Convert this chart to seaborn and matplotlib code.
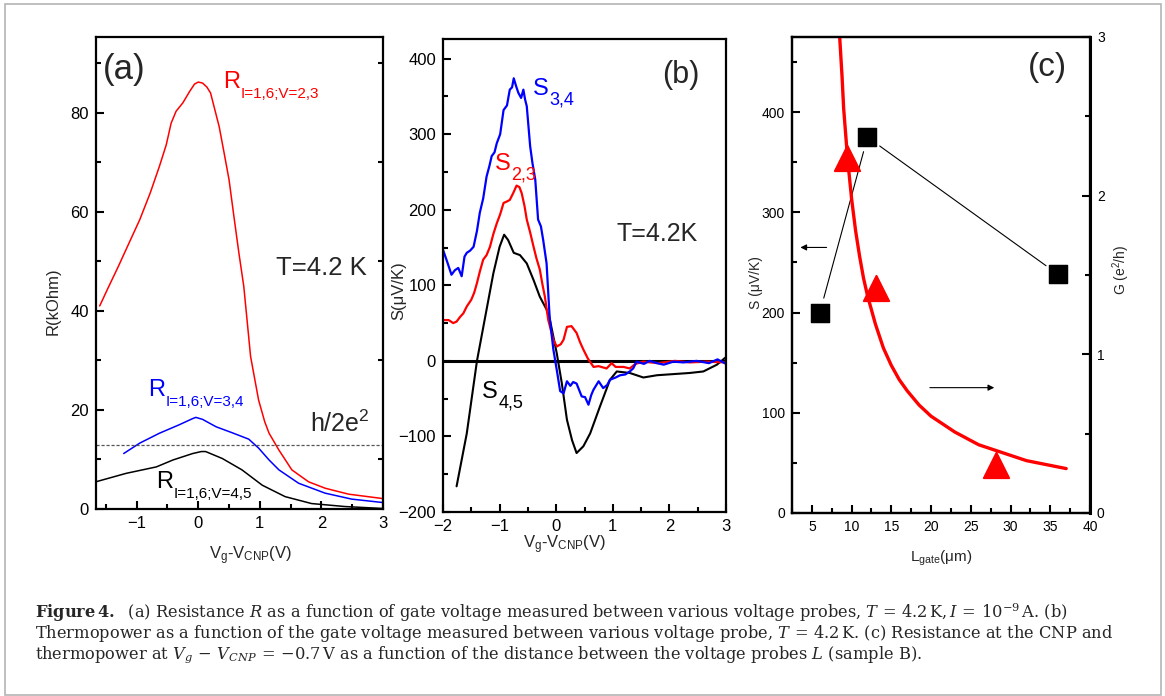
import numpy as np
import pandas as pd
import matplotlib
matplotlib.use('Agg')
import matplotlib.pyplot as plt
from matplotlib.ticker import MultipleLocator
from matplotlib.patches import Rectangle
import seaborn as sns

# ================= panel (a): R(kOhm) vs Vg-Vcnp =====================
va_23 = [-1.60, -1.45, -1.30, -1.12, -0.95, -0.78, -0.63, -0.52, -0.44, -0.36, -0.25, -0.14, -0.06,
         0.00, 0.07, 0.14, 0.20, 0.27, 0.34, 0.42, 0.50, 0.58, 0.66, 0.74, 0.85, 0.98, 1.08, 1.15,
         1.31, 1.52, 1.79, 2.06, 2.44, 3.0]
ra_23 = [41.0, 45.0, 48.9, 53.8, 58.4, 63.8, 69.2, 73.5, 77.9, 80.3, 82.0, 84.3, 85.8,
         86.2, 86.0, 85.2, 84.0, 80.6, 77.2, 71.9, 66.5, 59.0, 51.7, 44.9, 30.8, 22.0, 17.6, 15.3,
         11.9, 7.9, 5.5, 4.2, 3.0, 2.1]
va_34 = [-1.21, -0.95, -0.63, -0.31, -0.10, -0.04, 0.07, 0.29, 0.55, 0.82, 0.98, 1.15, 1.31, 1.63, 2.06, 2.49, 3.0]
ra_34 = [11.2, 13.3, 15.3, 17.0, 18.2, 18.5, 18.1, 16.6, 15.4, 14.1, 12.3, 9.9, 7.9, 5.2, 3.2, 2.0, 1.3]
va_45 = [-1.66, -1.17, -0.68, -0.41, -0.09, 0.05, 0.12, 0.39, 0.71, 1.04, 1.41, 1.84, 2.38, 3.0]
ra_45 = [5.5, 7.2, 8.5, 9.9, 11.2, 11.6, 11.6, 10.2, 7.9, 4.8, 2.5, 1.1, 0.5, 0.1]
h_2e2 = 12.9

# ================= panel (b): S(uV/K) vs Vg-Vcnp =====================
vb_34 = [-2.0, -1.93, -1.85, -1.79, -1.73, -1.67, -1.62, -1.58, -1.52, -1.46, -1.40, -1.35, -1.29,
         -1.23, -1.18, -1.14, -1.09, -1.05, -0.99, -0.93, -0.87, -0.82, -0.78, -0.75, -0.71, -0.67,
         -0.62, -0.58, -0.55, -0.52, -0.46, -0.42, -0.37, -0.32, -0.27, -0.23, -0.17, -0.12, -0.11,
         -0.05, 0.01, 0.07, 0.13, 0.19, 0.25, 0.30, 0.36, 0.45, 0.51, 0.57, 0.62, 0.66, 0.75, 0.83,
         0.90, 0.95, 1.05, 1.13, 1.22, 1.30, 1.36, 1.42, 1.55, 1.65, 1.78, 1.90, 2.07, 2.25, 2.48,
         2.70, 2.85, 3.0]
sb_34 = [147, 132, 114, 120, 123, 112, 138, 143, 146, 151, 172, 196, 215,
         244, 258, 271, 276, 288, 300, 332, 338, 359, 362, 374, 364, 355,
         348, 359, 346, 337, 284, 262, 240, 187, 178, 160, 129, 63, 54,
         15, -12, -40, -43, -27, -33, -28, -30, -47, -48, -58, -45, -38, -27, -36,
         -32, -25, -22, -19, -18, -14, -10, -1, -4, 0, -3, -5, -1, -2, 0,
         -3, 2, -4]
vb_23 = [-2.0, -1.90, -1.82, -1.76, -1.70, -1.64, -1.58, -1.50, -1.45, -1.40, -1.35, -1.29, -1.23,
         -1.17, -1.11, -1.05, -0.99, -0.93, -0.87, -0.82, -0.76, -0.70, -0.65, -0.61, -0.56, -0.52,
         -0.46, -0.40, -0.35, -0.29, -0.24, -0.20, -0.14, -0.05, 0.01, 0.08, 0.13, 0.19, 0.27,
         0.36, 0.42, 0.48, 0.56, 0.66, 0.75, 0.89, 0.98, 1.05, 1.19, 1.30, 1.40, 1.54, 1.80, 2.10,
         2.36, 2.65, 3.0]
sb_23 = [54, 54, 50, 52, 58, 63, 72, 81, 90, 103, 118, 134, 140,
         151, 168, 182, 194, 209, 211, 213, 222, 232, 230, 222, 205, 187,
         170, 151, 136, 121, 100, 85, 54, 28, 19, 22, 28, 45, 46,
         37, 25, 15, 3, -8, -7, -10, -3, -8, -8, -10, -4, -1, -3, 0,
         -2, -1, -2]
vb_45 = [-1.76, -1.58, -1.40, -1.23, -1.11, -1.00, -0.92, -0.85, -0.75, -0.64, -0.52, -0.40, -0.29,
         -0.17, -0.11, 0.01, 0.10, 0.19, 0.28, 0.36, 0.48, 0.60, 0.77, 0.95, 1.07, 1.30, 1.54, 1.78,
         2.36, 2.60, 2.84, 3.0]
sb_45 = [-166, -96, 0, 68, 116, 151, 167, 160, 143, 140, 129, 107, 85,
         68, 54, 10, -30, -78, -105, -122, -113, -96, -61, -25, -14, -16, -22, -19,
         -16, -14, -5, 5]

# ================= panel (c): S and G vs L_gate =====================
lc_sq = [6.0, 12.0, 36.0]
sc_sq = [200, 375, 238]
lc_tri = [9.4, 13.1, 28.2]
gc_tri = [2.24, 1.42, 0.30]
lc_fit = [8.5, 8.8, 9.0, 9.5, 10, 10.5, 11, 11.5, 12, 13, 14, 15, 16, 17, 18.5, 20, 21.5, 23, 24.5,
          26, 27.5, 29, 30.5, 32, 33.5, 35, 37]
gc_fit = [3.0, 2.75, 2.55, 2.23, 1.98, 1.78, 1.62, 1.48, 1.37, 1.19, 1.04, 0.93, 0.84, 0.77, 0.68,
          0.61, 0.56, 0.51, 0.47, 0.43, 0.405, 0.38, 0.355, 0.33, 0.315, 0.30, 0.28]

caption = [
    r'$\mathbf{Figure\,4.}$  (a) Resistance $R$ as a function of gate voltage measured between various voltage probes, '
    r'$T\,=\,4.2\,\mathrm{K}, I\,=\,10^{-9}\,\mathrm{A}$. (b)',
    r'Thermopower as a function of the gate voltage measured between various voltage probe, $T\,=\,4.2\,\mathrm{K}$. '
    r'(c) Resistance at the CNP and',
    r'thermopower at $V_g\,-\,V_{CNP}\,=\,{-}0.7\,\mathrm{V}$ as a function of the distance between the voltage probes $L$ (sample B).',
]

sns.set_theme(style='ticks')
plt.rcParams['font.family'] = ['Liberation Sans', 'DejaVu Sans']
plt.rcParams['mathtext.fontset'] = 'custom'
plt.rcParams['mathtext.rm'] = 'Liberation Sans'
plt.rcParams['mathtext.it'] = 'Liberation Sans:italic'
plt.rcParams['mathtext.bf'] = 'Liberation Sans:bold'
plt.rcParams['axes.linewidth'] = 1.6
plt.rcParams['axes.edgecolor'] = 'black'

W, H = 1165, 696
fig = plt.figure(figsize=(W / 100, H / 100), dpi=100)


def px_axes(l, r, t, b):
    return fig.add_axes([l / W, (H - b) / H, (r - l) / W, (b - t) / H])


def style_ticks(ax, size):
    ax.tick_params(which='both', direction='in', width=1.5, labelsize=size, colors='black', pad=5)
    ax.tick_params(which='major', length=6)
    ax.tick_params(which='minor', length=3.5)


def sub_label(ax, x, y, main, sub, color, size=17, subsize=11):
    # main letter at data position, subscript hung just below its baseline
    t = ax.text(x, y, main, color=color, fontsize=size, va='baseline', ha='left')
    ax.annotate(sub, xy=(1, 0), xycoords=t, xytext=(0.5, -3.6), textcoords='offset points',
                color=color, fontsize=subsize, va='baseline', ha='left')


# ---------------- (a) ----------------
ax_a = px_axes(96, 383, 37, 509)
sns.lineplot(x=va_23, y=ra_23, ax=ax_a, color='red', linewidth=1.1, sort=False, estimator=None)
sns.lineplot(x=va_34, y=ra_34, ax=ax_a, color='blue', linewidth=1.1, sort=False, estimator=None)
sns.lineplot(x=va_45, y=ra_45, ax=ax_a, color='black', linewidth=1.1, sort=False, estimator=None)
ax_a.axhline(h_2e2, color='#555555', linewidth=0.9, linestyle=(0, (2.5, 1.5)))
ax_a.set_xlim(-1.66, 3)
ax_a.set_ylim(0, 95.3)
ax_a.xaxis.set_major_locator(MultipleLocator(1))
ax_a.xaxis.set_minor_locator(MultipleLocator(0.5))
ax_a.yaxis.set_major_locator(MultipleLocator(20))
ax_a.yaxis.set_minor_locator(MultipleLocator(10))
style_ticks(ax_a, 12)
ax_a.tick_params(which='minor', right=True)
ax_a.set_xlabel(r'V$_{\mathrm{g}}$-V$_{\mathrm{CNP}}$(V)', fontsize=12)
ax_a.xaxis.set_label_coords(0.54, -0.075)
ax_a.set_ylabel('R(kOhm)', fontsize=12)
ax_a.yaxis.set_label_coords(-0.125, 0.44)
ax_a.text(-1.55, 88.7, '(a)', fontsize=25, ha='left', va='center')
sub_label(ax_a, 0.40, 85.0, 'R', 'I=1,6;V=2,3', 'red')
ax_a.text(1.26, 47.3, 'T=4.2 K', fontsize=18.5, va='baseline')
sub_label(ax_a, -0.82, 22.8, 'R', 'I=1,6;V=3,4', 'blue')
ax_a.text(1.81, 15.6, r'h/2e$^{\mathrm{2}}$', fontsize=18, va='baseline')
sub_label(ax_a, -0.68, 4.2, 'R', 'I=1,6;V=4,5', 'black')

# ---------------- (b) ----------------
ax_b = px_axes(443, 726, 39, 512)
ax_b.axhline(0, color='black', linewidth=2.2)
sns.lineplot(x=vb_45, y=sb_45, ax=ax_b, color='black', linewidth=1.5, sort=False, estimator=None)
sns.lineplot(x=vb_23, y=sb_23, ax=ax_b, color='red', linewidth=1.6, sort=False, estimator=None)
sns.lineplot(x=vb_34, y=sb_34, ax=ax_b, color='blue', linewidth=1.6, sort=False, estimator=None)
ax_b.set_xlim(-2, 3)
ax_b.set_ylim(-200, 426)
ax_b.xaxis.set_major_locator(MultipleLocator(1))
ax_b.xaxis.set_minor_locator(MultipleLocator(0.5))
ax_b.yaxis.set_major_locator(MultipleLocator(100))
ax_b.yaxis.set_minor_locator(MultipleLocator(50))
style_ticks(ax_b, 12)
ax_b.set_xlabel(r'V$_{\mathrm{g}}$-V$_{\mathrm{CNP}}$(V)', fontsize=12)
ax_b.xaxis.set_label_coords(0.43, -0.045)
ax_b.set_ylabel('S(\u03bcV/K)', fontsize=12)
ax_b.yaxis.set_label_coords(-0.13, 0.467)
ax_b.text(1.87, 379, '(b)', fontsize=22, ha='left', va='center')
sub_label(ax_b, -0.41, 352, 'S', '3,4', 'blue', subsize=13)
sub_label(ax_b, -1.08, 253, 'S', '2,3', 'red', subsize=13)
ax_b.text(1.07, 159, 'T=4.2K', fontsize=18, va='baseline')
sub_label(ax_b, -1.31, -49, 'S', '4,5', 'black', subsize=13)

# ---------------- (c) ----------------
ax_c = px_axes(792, 1090, 37, 513)
ax_g = ax_c.twinx()
ax_c.set_xlim(2.5, 40)
ax_c.set_ylim(0, 475)
ax_g.set_ylim(0, 3)

# connecting lines stop short of the squares (Origin-style gap)
pts = ax_c.transData.transform(np.column_stack([lc_sq, sc_sq]))
gap = 15
for p0, p1 in zip(pts[:-1], pts[1:]):
    d = (p1 - p0) / np.hypot(*(p1 - p0))
    seg = ax_c.transData.inverted().transform(np.array([p0 + gap * d, p1 - gap * d]))
    sns.lineplot(x=seg[:, 0], y=seg[:, 1], ax=ax_c, color='black', linewidth=0.8, sort=False, estimator=None)
sns.scatterplot(x=lc_sq, y=sc_sq, ax=ax_c, marker='s', s=170, color='black', edgecolor='black', zorder=3)
sns.lineplot(x=lc_fit, y=gc_fit, ax=ax_g, color='red', linewidth=2.4, sort=False, estimator=None)
sns.scatterplot(x=lc_tri, y=gc_tri, ax=ax_g, marker='^', s=330, color='red', edgecolor='red', zorder=3)
ax_c.set_xlim(2.5, 40)
ax_c.set_ylim(0, 475)
ax_g.set_ylim(0, 3)
ax_c.xaxis.set_major_locator(MultipleLocator(5))
ax_c.xaxis.set_minor_locator(MultipleLocator(2.5))
ax_c.yaxis.set_major_locator(MultipleLocator(100))
ax_c.yaxis.set_minor_locator(MultipleLocator(50))
ax_g.yaxis.set_major_locator(MultipleLocator(1))
ax_g.yaxis.set_minor_locator(MultipleLocator(0.5))
style_ticks(ax_c, 10)
style_ticks(ax_g, 10)
for a in (ax_c, ax_g):
    for sp in a.spines.values():
        sp.set_linewidth(1.6)
ax_g.spines['right'].set_linewidth(2.2)
ax_c.annotate('', xy=(3.2, 265), xytext=(7.2, 265),
              arrowprops=dict(arrowstyle='-|>', color='black', lw=0.8, mutation_scale=9))
ax_g.annotate('', xy=(28.3, 0.79), xytext=(19.5, 0.79),
              arrowprops=dict(arrowstyle='-|>', color='black', lw=0.8, mutation_scale=9))
ax_c.set_xlabel('L$_{\\mathrm{gate}}$(\u03bcm)', fontsize=11)
ax_c.xaxis.set_label_coords(0.5, -0.074)
ax_c.set_ylabel('S (\u03bcV/K)', fontsize=10)
ax_c.yaxis.set_label_coords(-0.097, 0.485)
ax_g.set_ylabel(r'G (e$^{\mathrm{2}}$/h)', fontsize=10)
ax_g.yaxis.set_label_coords(1.067, 0.51)
ax_c.text(32.2, 445, '(c)', fontsize=24, ha='left', va='center')

# ---------------- caption + frame ----------------
for i, line in enumerate(caption):
    fig.text(35 / W, 1 - (618 + 20 * i) / H, line, fontsize=11.7, family='DejaVu Serif',
             math_fontfamily='dejavuserif', va='baseline', ha='left')
fig.add_artist(Rectangle((5 / W, 1 / H), (1161 - 5) / W, (695 - 4) / H, transform=fig.transFigure,
                         fill=False, edgecolor='#b4b4b4', linewidth=1.2))

fig.savefig('out.png', dpi=100)
